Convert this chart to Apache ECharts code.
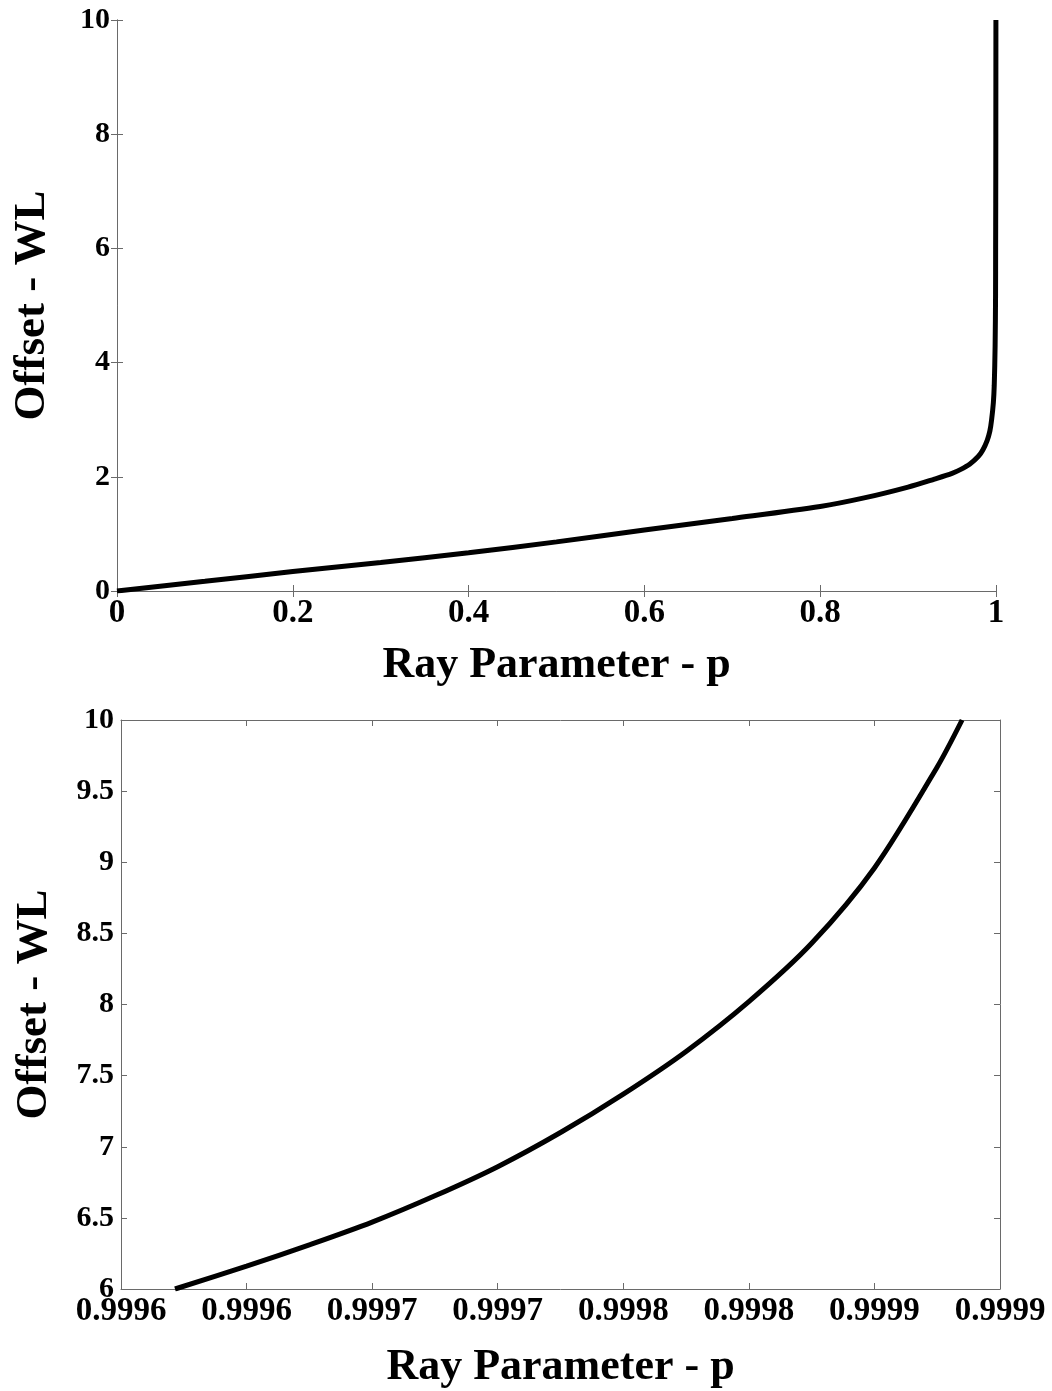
<!DOCTYPE html>
<html>
<head>
<meta charset="utf-8">
<script src="https://cdn.jsdelivr.net/npm/echarts@6/dist/echarts.min.js"></script>
<style>
  html, body { margin: 0; padding: 0; background: #fff; }
  #chart { width: 1052px; height: 1391px; }
</style>
</head>
<body>
<div id="chart"></div>
<script>
// full range: ray parameter vs offset (wavelengths)
const fullP = [0, 0.1, 0.2, 0.3, 0.4, 0.5, 0.6, 0.7, 0.8, 0.85, 0.9, 0.93, 0.95, 0.96, 0.97,
  0.98, 0.985, 0.99, 0.993, 0.995, 0.997, 0.998, 0.999, 0.9995, 0.99958, 0.9997, 0.9998, 0.9999];
const fullOffset = [0, 0.17, 0.34, 0.5, 0.67, 0.86, 1.07, 1.27, 1.48, 1.63, 1.82, 1.96, 2.06, 2.13, 2.22,
  2.36, 2.47, 2.64, 2.8, 3.0, 3.3, 3.6, 4.3, 5.2, 6.0, 6.8, 8.0, 10];

// zoomed range near p = 1
const zoomP = [0.9995815, 0.99961, 0.999635, 0.99966, 0.999685, 0.99971, 0.999735, 0.99976,
  0.999785, 0.99981, 0.999835, 0.99986, 0.999885, 0.9998949];
const zoomOffset = [6.0, 6.16, 6.31, 6.47, 6.655, 6.86, 7.1, 7.37, 7.67, 8.02, 8.43, 8.96, 9.67, 10.0];

const fullXTicks = { min: 0, max: 1, interval: 0.2 };
const fullYTicks = { min: 0, max: 10, interval: 2 };
const zoomXTicks = { min: 0.99956, max: 0.99991, interval: 0.00005 };
const zoomYTicks = { min: 6, max: 10, interval: 0.5 };

const font = "'Liberation Serif', 'DejaVu Serif', serif";
const axisGrey = "#6a6a6a";

function pairs(xs, ys) {
  return xs.map((x, i) => [x, ys[i]]);
}

function mainX(gridIndex, ticks, name, nameGap, fmt) {
  return {
    type: "value",
    gridIndex,
    position: "bottom",
    min: ticks.min,
    max: ticks.max,
    interval: ticks.interval,
    name,
    nameLocation: "middle",
    nameGap,
    nameTextStyle: { fontFamily: font, fontWeight: "bold", fontSize: 44, color: "#000" },
    axisLine: { show: true, lineStyle: { color: axisGrey, width: 1 } },
    axisTick: { show: true, inside: true, length: 6, lineStyle: { color: axisGrey } },
    axisLabel: {
      fontFamily: font, fontWeight: "bold", fontSize: 33, color: "#000", margin: 6,
      showMinLabel: true, showMaxLabel: true,
      formatter: fmt,
    },
    splitLine: { show: false },
  };
}

function mainY(gridIndex, ticks, name, nameGap) {
  return {
    type: "value",
    gridIndex,
    position: "left",
    min: ticks.min,
    max: ticks.max,
    interval: ticks.interval,
    name,
    nameLocation: "middle",
    nameRotate: 90,
    nameGap,
    nameTextStyle: { fontFamily: font, fontWeight: "bold", fontSize: 45, color: "#000" },
    axisLine: { show: true, lineStyle: { color: axisGrey, width: 1 } },
    axisTick: { show: true, inside: true, length: 6, lineStyle: { color: axisGrey } },
    axisLabel: { fontFamily: font, fontWeight: "bold", fontSize: 30, color: "#000", margin: 7 },
    splitLine: { show: false },
  };
}

// mirror axes for the top / right ticks of the box
function mirror(gridIndex, ticks, position) {
  return {
    type: "value",
    gridIndex,
    position,
    min: ticks.min,
    max: ticks.max,
    interval: ticks.interval,
    axisLine: { show: true, lineStyle: { color: axisGrey, width: 1 } },
    axisTick: { show: true, inside: true, length: 6, lineStyle: { color: axisGrey } },
    axisLabel: { show: false },
    splitLine: { show: false },
  };
}

const chart = echarts.init(document.getElementById("chart"));
chart.setOption({
  animation: false,
  backgroundColor: "#fff",
  grid: [
    { left: 117, top: 20, width: 879, height: 571 },
    { left: 121, top: 720, width: 879, height: 571 },
  ],
  xAxis: [
    mainX(0, fullXTicks, "Ray Parameter - p", 53),
    mainX(1, zoomXTicks, "Ray Parameter - p", 57, (v) => v.toFixed(4)),
    mirror(0, fullXTicks, "top"),
    mirror(1, zoomXTicks, "top"),
  ],
  yAxis: [
    mainY(0, fullYTicks, "Offset - WL", 62),
    mainY(1, zoomYTicks, "Offset - WL", 64),
    mirror(0, fullYTicks, "right"),
    mirror(1, zoomYTicks, "right"),
  ],
  series: [
    {
      type: "line",
      xAxisIndex: 0,
      yAxisIndex: 0,
      data: pairs(fullP, fullOffset),
      smooth: 0.3,
      showSymbol: false,
      lineStyle: { color: "#000", width: 5 },
    },
    {
      type: "line",
      xAxisIndex: 1,
      yAxisIndex: 1,
      data: pairs(zoomP, zoomOffset),
      smooth: 0.3,
      showSymbol: false,
      lineStyle: { color: "#000", width: 5 },
    },
  ],
});
</script>
</body>
</html>
